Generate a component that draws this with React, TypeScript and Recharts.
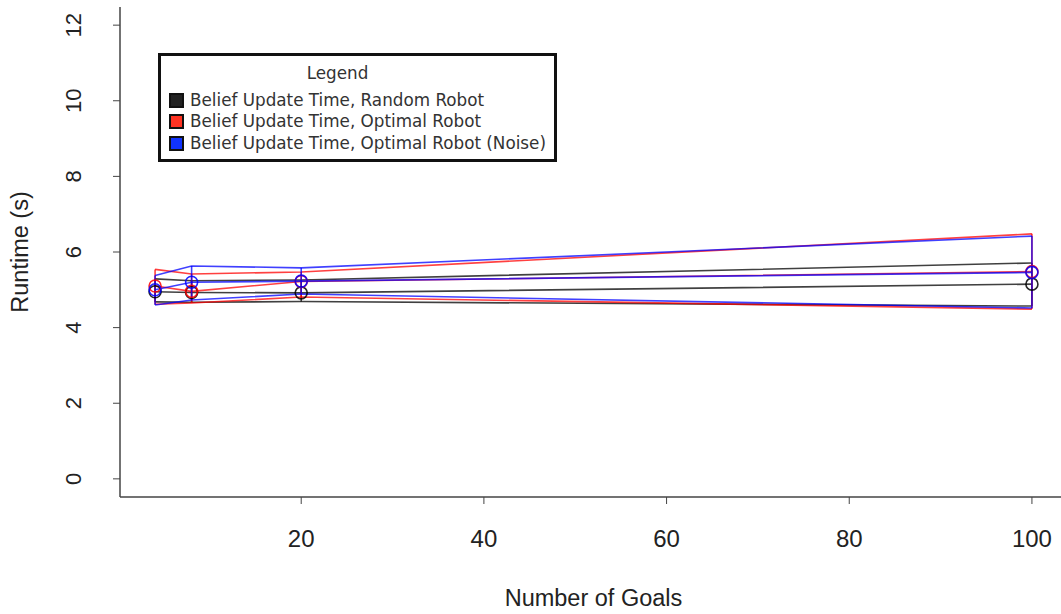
import React from "react"
import {
  ComposedChart,
  Line,
  XAxis,
  YAxis,
  ErrorBar,
  Legend,
  Label,
} from "recharts"

// goal counts on the x axis
const goals = [4, 8, 20, 100]

// belief update runtime (s): mean with lower / upper envelope per series
const randomMean = [4.95, 4.93, 4.92, 5.15]
const randomLower = [4.68, 4.67, 4.69, 4.57]
const randomUpper = [5.29, 5.24, 5.26, 5.71]

const optimalMean = [5.1, 4.96, 5.22, 5.48]
const optimalLower = [4.62, 4.65, 4.81, 4.49]
const optimalUpper = [5.54, 5.42, 5.47, 6.48]

const noiseMean = [5.0, 5.2, 5.23, 5.46]
const noiseLower = [4.6, 4.73, 4.89, 4.52]
const noiseUpper = [5.38, 5.63, 5.58, 6.42]

const xTicks = [20, 40, 60, 80, 100]
const yTicks = [0, 2, 4, 6, 8, 10, 12]

const series = [
  { key: "random", name: "Belief Update Time, Random Robot", color: "#000000", swatch: "#222222", mean: randomMean, lower: randomLower, upper: randomUpper },
  { key: "optimal", name: "Belief Update Time, Optimal Robot", color: "#ff0000", swatch: "#ff3322", mean: optimalMean, lower: optimalLower, upper: optimalUpper },
  { key: "noise", name: "Belief Update Time, Optimal Robot (Noise)", color: "#0000ff", swatch: "#1133ff", mean: noiseMean, lower: noiseLower, upper: noiseUpper },
]

const rows = goals.map((g, i) => {
  const row: Record<string, number | number[]> = { goals: g }
  series.forEach((s) => {
    row[`${s.key}Mean`] = s.mean[i]
    row[`${s.key}Lower`] = s.lower[i]
    row[`${s.key}Upper`] = s.upper[i]
    row[`${s.key}Err`] = [s.mean[i] - s.lower[i], s.upper[i] - s.mean[i]]
  })
  return row
})

const FONT = "'Liberation Sans', Arial, sans-serif"
const FRAME = "#444"
const OPACITY = 0.75

const XTick = ({ x, y, payload }: any) => (
  <text x={x} y={y + 41} textAnchor="middle" fontSize={24} fontFamily={FONT} fill="#222">
    {payload.value}
  </text>
)

const YTick = ({ x, y, payload }: any) => {
  const bx = x - 30
  return (
    <text
      x={bx}
      y={y}
      transform={`rotate(-90, ${bx}, ${y})`}
      textAnchor="middle"
      fontSize={22}
      fontFamily={FONT}
      fill="#222"
    >
      {payload.value}
    </text>
  )
}

const LegendBox = () => (
  <div
    style={{
      position: "relative",
      width: 399,
      height: 109,
      boxSizing: "border-box",
      border: "3px solid #111",
      background: "#fff",
      fontFamily: "'DejaVu Sans', sans-serif",
      fontSize: 16.8,
      color: "#333",
    }}
  >
    <div style={{ position: "absolute", top: 7, left: 0, right: 40, textAlign: "center", lineHeight: "21px" }}>
      Legend
    </div>
    {series.map((s, i) => (
      <div
        key={s.key}
        style={{
          position: "absolute",
          top: 33.5 + i * 21.65,
          left: 8,
          display: "flex",
          alignItems: "center",
          lineHeight: "21px",
          whiteSpace: "nowrap",
        }}
      >
        <span
          style={{
            width: 15,
            height: 15,
            boxSizing: "border-box",
            border: "2px solid #111",
            background: s.swatch,
            marginRight: 6,
          }}
        />
        {s.name}
      </div>
    ))}
  </div>
)

export default function App() {
  return (
    <div style={{ position: "absolute", left: 0, top: 0, width: 1061, height: 614, overflow: "hidden", background: "#fff" }}>
      <ComposedChart width={1080} height={614} data={rows} margin={{ top: 7, right: 13, bottom: 0, left: 0 }}>
        <XAxis
          xAxisId="top"
          orientation="top"
          type="number"
          dataKey="goals"
          domain={[0.16, 103.84]}
          allowDataOverflow
          height={0}
          tick={false}
          tickLine={false}
          axisLine={{ stroke: FRAME, strokeWidth: 1.5 }}
        />
        <XAxis
          type="number"
          dataKey="goals"
          domain={[0.16, 103.84]}
          allowDataOverflow
          ticks={xTicks}
          height={117}
          tickSize={7}
          tick={<XTick />}
          tickLine={{ stroke: FRAME }}
          axisLine={{ stroke: FRAME, strokeWidth: 1.5 }}
        >
          <Label
            content={({ viewBox }: any) => (
              <text
                x={viewBox.x + viewBox.width / 2}
                y={606}
                textAnchor="middle"
                fontSize={23.5}
                fontFamily={FONT}
                fill="#222"
              >
                Number of Goals
              </text>
            )}
          />
        </XAxis>
        <YAxis
          type="number"
          domain={[-0.48, 12.48]}
          allowDataOverflow
          ticks={yTicks}
          width={120}
          tickSize={7}
          tick={<YTick />}
          tickLine={{ stroke: FRAME }}
          axisLine={{ stroke: FRAME, strokeWidth: 1.5 }}
        >
          <Label
            content={({ viewBox }: any) => {
              const cy = viewBox.y + viewBox.height / 2
              return (
                <text
                  x={28}
                  y={cy}
                  transform={`rotate(-90, 28, ${cy})`}
                  textAnchor="middle"
                  fontSize={23.5}
                  fontFamily={FONT}
                  fill="#222"
                >
                  Runtime (s)
                </text>
              )
            }}
          />
        </YAxis>
        <Legend
          layout="horizontal"
          verticalAlign="middle"
          align="center"
          content={() => <LegendBox />}
          wrapperStyle={{ left: 158, top: 53, width: 399, height: 109 }}
        />
        {series.flatMap((s) => [
          <Line
            key={`${s.key}-upper`}
            dataKey={`${s.key}Upper`}
            stroke={s.color}
            strokeOpacity={OPACITY}
            strokeWidth={1.6}
            dot={false}
            activeDot={false}
            isAnimationActive={false}
            legendType="none"
          />,
          <Line
            key={`${s.key}-lower`}
            dataKey={`${s.key}Lower`}
            stroke={s.color}
            strokeOpacity={OPACITY}
            strokeWidth={1.6}
            dot={false}
            activeDot={false}
            isAnimationActive={false}
            legendType="none"
          />,
          <Line
            key={`${s.key}-mean`}
            dataKey={`${s.key}Mean`}
            name={s.name}
            stroke={s.color}
            strokeOpacity={OPACITY}
            strokeWidth={1.6}
            dot={{ r: 6, fill: "none", stroke: s.color, strokeWidth: 1.6, strokeOpacity: 0.85 }}
            activeDot={false}
            isAnimationActive={false}
          >
            <ErrorBar
              dataKey={`${s.key}Err`}
              direction="y"
              width={0}
              stroke={s.color}
              strokeOpacity={OPACITY}
              strokeWidth={1.6}
              isAnimationActive={false}
            />
          </Line>,
        ])}
      </ComposedChart>
    </div>
  )
}
